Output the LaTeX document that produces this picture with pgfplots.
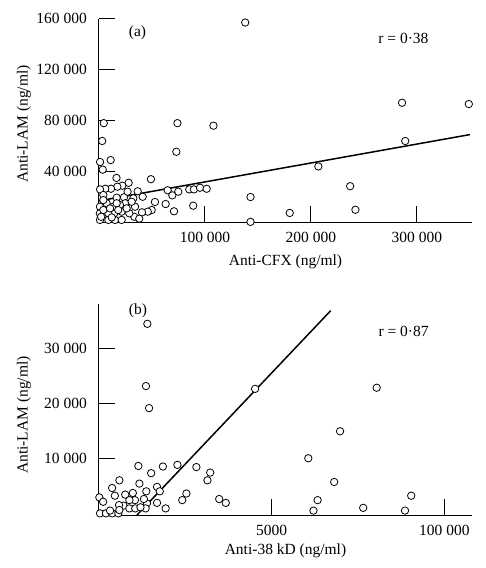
\documentclass[border=0pt]{standalone}
\usepackage{fontspec}
\setmainfont{Liberation Serif}
\usepackage{pgfplots}
\pgfplotsset{compat=1.18}

\pgfplotsset{myax/.style={
  scale only axis, width=373bp,
  axis lines=left, axis line style={-, line width=1bp},
  tick align=inside, major tick length=16bp,
  tick style={line width=1bp, black},
  xtick pos=left, ytick pos=left,
  scaled ticks=false,
  font=\fontsize{15.5bp}{18bp}\selectfont,
  /pgf/number format/assume math mode=true,
  clip=false,
  xticklabel style={anchor=center, yshift=-15bp},
  yticklabel style={anchor=east, inner sep=0pt, xshift=-12bp},
  xlabel style={at={(axis description cs:0.5,0)}, anchor=center},
  ylabel style={at={(axis description cs:0,0.5)}, anchor=center},
},
pts/.style={only marks, mark=*, mark size=3.7bp, mark options={draw=black, fill=white, line width=0.8bp}},
fit/.style={black, line width=1.5bp, no marks}}

\begin{document}
\begin{tikzpicture}
\useasboundingbox (-99bp,-345.5bp) rectangle (387bp,222.5bp);
% ---------- (a) ----------
\begin{axis}[myax, at={(0,0)}, anchor=south west,
  height=203.8bp,
  xmin=0, xmax=352000, ymin=0, ymax=160000,
  xtick={100000,200000,300000}, xticklabels={100 000,200 000,300 000},
  ytick={40000,80000,120000,160000}, yticklabels={40 000,80 000,120 000,160 000},
  xlabel={Anti-CFX (ng/ml)}, xlabel style={yshift=-39.5bp},
  ylabel={Anti-LAM (ng/ml)}, ylabel style={yshift=75bp, xshift=-3.4bp},
]
\addplot[fit] coordinates {(0,17000) (350000,69000)};
\addplot[pts] coordinates {
(138000,157000) (4500,78000) (3000,64000) (1000,47500) (11000,49000) (3500,41500)
(74000,78000) (108000,76000) (73000,55500) (49000,34000) (16500,35000)
(286000,94000) (349000,93000) (289000,64000) (207000,44000) (237000,28500)
(143000,20000) (180000,7500) (242000,10000) (143000,500)
(64800,25300) (74800,24200) (85200,26000) (89600,26000) (95300,27300) (101600,26500)
(69200,21300) (88900,13200) (70800,8800) (52800,16100) (49700,9800) (62900,14500)
(46000,8500) (41200,20200) (36500,24500) (28000,31200) (22000,28900) (17300,28100)
(11300,26500) (5900,26500) (1000,26000) (4100,21600) (16700,19500) (23600,19800)
(32400,19000) (27000,24200) (24800,15100) (34000,12400) (40600,8000) (33300,4500)
(28600,7200) (21400,8500) (14400,7200) (8800,7200) (900,12400) (800,7200)
(900,2000) (8800,2000) (15100,2000) (21400,2000) (7200,15100) (13500,12400)
(19800,13700) (4100,9800) (10400,11100) (18200,9800) (26100,11100) (30800,16300)
(16700,15100) (4100,17600) (38000,3000) (2000,4500) (12000,4000)
};
\node[font=\fontsize{15.5bp}{18bp}\selectfont] at (axis cs:36300,149200) {(a)};
\node[font=\fontsize{15.5bp}{18bp}\selectfont] at (axis cs:287300,144600) {r = 0·38};
\end{axis}
% ---------- (b) ----------
\begin{axis}[myax, at={(0,-292.5bp)}, anchor=south west,
  height=211bp,
  xmin=0, xmax=108000, ymin=-300, ymax=38000,
  xtick={50000,100000}, xticklabels={5000,100 000},
  ytick={10000,20000,30000}, yticklabels={10 000,20 000,30 000},
  xlabel={Anti-38 kD (ng/ml)}, xlabel style={yshift=-36bp},
  ylabel={Anti-LAM (ng/ml)}, ylabel style={yshift=75bp, xshift=-5.5bp},
]
\addplot[fit] coordinates {(11000,-300) (67100,36800)};
\addplot[pts] coordinates {
(14000,34400) (13600,23100) (14500,19100) (11400,8600) (15100,7300) (18500,8500)
(22700,8800) (28200,8400) (32200,7400) (31400,6000) (5900,6000) (3800,4600)
(11700,5400) (13700,4000) (16800,4800) (17600,4000) (25300,3600) (24100,2400)
(34800,2600) (36700,1900) (19300,900) (16800,1900) (13900,1800) (100,2900)
(1200,2100) (300,0) (2000,0) (3800,0) (5600,0) (4600,3200) (7600,3400)
(9800,3700) (10400,2400) (8800,2400) (7100,1400) (8800,900) (10500,900)
(13500,900) (5800,1500) (5900,600) (3200,500) (13000,2600) (12000,1100)
(45200,22600) (80400,22800) (69800,14900) (60600,10000) (68100,5700)
(63300,2400) (62100,500) (76500,1000) (88600,500) (90400,3200)
};
\node[font=\fontsize{15.5bp}{18bp}\selectfont] at (axis cs:11300,36800) {(b)};
\node[font=\fontsize{15.5bp}{18bp}\selectfont] at (axis cs:88200,33100) {r = 0·87};
\end{axis}
\end{tikzpicture}
\end{document}
